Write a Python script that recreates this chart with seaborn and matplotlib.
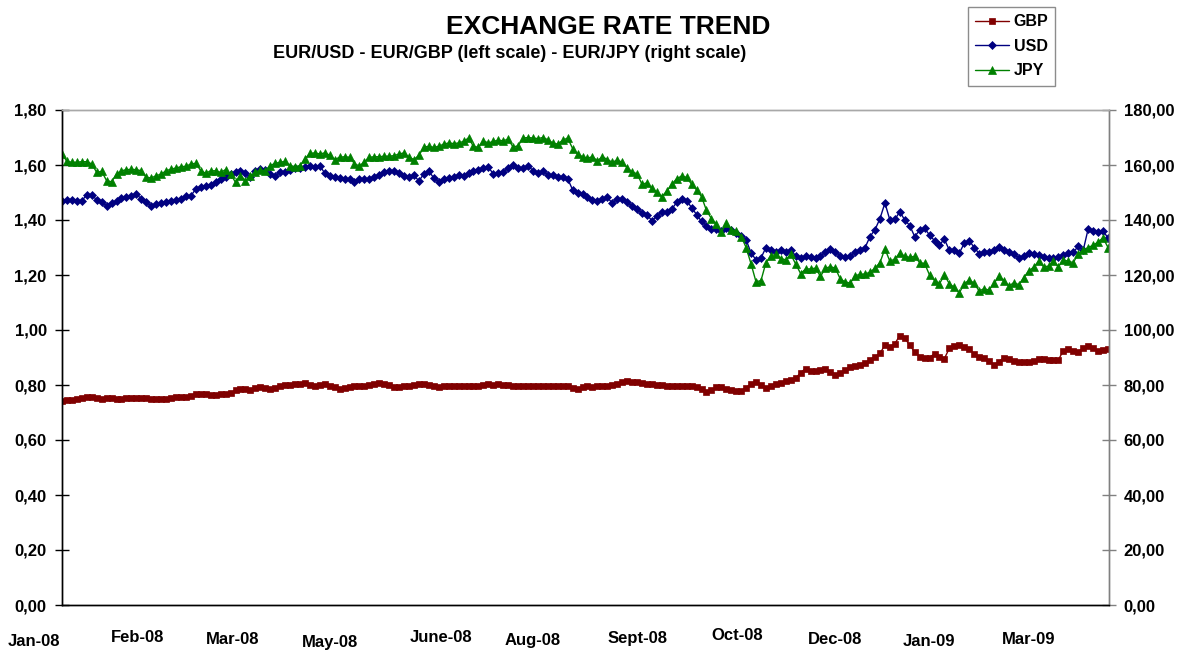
import numpy as np
import pandas as pd
import matplotlib
matplotlib.use("Agg")
import matplotlib.pyplot as plt
import seaborn as sns
from matplotlib.ticker import FuncFormatter
from matplotlib.transforms import ScaledTranslation, blended_transform_factory

# dati (un punto ogni ~5 px, asse a categorie)
usd = [
    1.470, 1.473, 1.474, 1.470, 1.470, 1.492, 1.492, 1.473, 1.464, 1.452,
    1.461, 1.470, 1.479, 1.482, 1.488, 1.495, 1.476, 1.464, 1.452, 1.458,
    1.461, 1.467, 1.470, 1.473, 1.476, 1.488, 1.488, 1.513, 1.521, 1.525,
    1.528, 1.539, 1.549, 1.555, 1.567, 1.573, 1.579, 1.570, 1.555, 1.577,
    1.585, 1.582, 1.567, 1.561, 1.573, 1.573, 1.582, 1.589, 1.588, 1.592,
    1.598, 1.594, 1.598, 1.570, 1.560, 1.557, 1.552, 1.549, 1.548, 1.540,
    1.548, 1.549, 1.550, 1.555, 1.565, 1.575, 1.579, 1.578, 1.570, 1.561,
    1.558, 1.562, 1.542, 1.568, 1.577, 1.553, 1.540, 1.549, 1.553, 1.555,
    1.565, 1.559, 1.572, 1.580, 1.581, 1.588, 1.592, 1.568, 1.570, 1.576,
    1.588, 1.600, 1.590, 1.588, 1.597, 1.580, 1.570, 1.577, 1.565, 1.563,
    1.558, 1.556, 1.550, 1.510, 1.498, 1.494, 1.482, 1.473, 1.470, 1.478,
    1.482, 1.462, 1.476, 1.478, 1.466, 1.450, 1.440, 1.425, 1.418, 1.398,
    1.414, 1.430, 1.430, 1.440, 1.464, 1.476, 1.470, 1.445, 1.420, 1.395,
    1.380, 1.367, 1.367, 1.361, 1.370, 1.365, 1.352, 1.342, 1.328, 1.280,
    1.255, 1.262, 1.300, 1.290, 1.285, 1.290, 1.282, 1.291, 1.270, 1.262,
    1.268, 1.267, 1.262, 1.270, 1.283, 1.295, 1.285, 1.270, 1.265, 1.268,
    1.285, 1.292, 1.300, 1.340, 1.365, 1.405, 1.462, 1.400, 1.402, 1.430,
    1.400, 1.380, 1.340, 1.362, 1.370, 1.345, 1.325, 1.310, 1.330, 1.290,
    1.290, 1.280, 1.315, 1.325, 1.300, 1.278, 1.285, 1.285, 1.290, 1.302,
    1.292, 1.285, 1.276, 1.262, 1.268, 1.280, 1.278, 1.272, 1.265, 1.262,
    1.262, 1.264, 1.272, 1.280, 1.282, 1.305, 1.290, 1.368, 1.360, 1.355,
    1.360, 1.335,
]

jpy = [
    164.0, 161.3, 161.0, 161.0, 161.2, 161.2, 160.4, 157.3, 157.7, 154.3,
    153.9, 156.7, 157.9, 158.3, 158.4, 158.3, 157.9, 155.5, 155.3, 156.1,
    156.7, 157.9, 158.5, 158.9, 159.4, 159.5, 160.4, 160.6, 157.9, 157.0,
    157.9, 157.9, 157.3, 158.3, 156.7, 153.7, 156.1, 154.3, 156.1, 157.3,
    158.2, 157.9, 159.8, 160.6, 161.0, 161.3, 159.8, 159.4, 159.8, 162.2,
    164.2, 164.4, 164.0, 164.4, 163.6, 162.0, 162.8, 163.0, 162.8, 160.5,
    159.6, 161.2, 162.8, 163.0, 163.0, 163.2, 163.2, 163.4, 164.0, 164.4,
    162.8, 162.0, 163.5, 166.5, 166.8, 166.4, 166.8, 167.6, 168.0, 167.8,
    168.0, 168.6, 169.8, 166.8, 166.4, 168.8, 168.0, 168.6, 169.0, 168.8,
    169.4, 166.5, 167.0, 169.8, 170.0, 169.8, 169.6, 170.0, 169.2, 168.0,
    167.6, 169.0, 169.8, 166.0, 164.0, 163.0, 162.5, 163.0, 161.5, 163.0,
    162.0, 161.0, 161.8, 161.0, 159.0, 157.5, 156.8, 153.0, 153.5, 151.5,
    150.2, 148.5, 150.5, 153.0, 155.0, 156.0, 155.5, 153.0, 151.0, 148.5,
    143.5, 140.5, 138.5, 135.5, 139.0, 136.5, 136.0, 134.0, 130.0, 124.0,
    117.5, 118.0, 124.5, 127.0, 127.5, 126.0, 125.5, 127.5, 124.0, 120.5,
    122.2, 122.2, 122.5, 119.5, 122.5, 123.0, 122.5, 118.5, 117.5, 117.0,
    119.8, 120.2, 120.4, 121.0, 122.5, 124.5, 129.5, 125.0, 125.8, 128.0,
    126.8, 126.4, 126.8, 124.5, 124.2, 120.0, 118.0, 116.8, 120.0, 116.8,
    115.5, 113.5, 116.8, 118.2, 117.0, 114.2, 115.0, 114.5, 117.0, 119.5,
    118.0, 116.0, 117.2, 116.5, 119.0, 121.5, 122.8, 125.0, 123.0, 123.2,
    125.0, 123.0, 125.5, 125.0, 124.5, 127.8, 129.0, 130.0, 130.8, 132.0,
    133.5, 130.0,
]

gbp = [
    0.743, 0.745, 0.746, 0.748, 0.752, 0.758, 0.758, 0.752, 0.750, 0.751,
    0.751, 0.750, 0.750, 0.752, 0.753, 0.752, 0.751, 0.751, 0.750, 0.750,
    0.749, 0.748, 0.752, 0.755, 0.757, 0.758, 0.760, 0.766, 0.768, 0.766,
    0.764, 0.764, 0.766, 0.768, 0.770, 0.782, 0.784, 0.785, 0.783, 0.788,
    0.792, 0.790, 0.787, 0.790, 0.795, 0.799, 0.800, 0.802, 0.804, 0.806,
    0.800, 0.798, 0.800, 0.805, 0.796, 0.792, 0.786, 0.790, 0.794, 0.796,
    0.796, 0.798, 0.800, 0.802, 0.806, 0.804, 0.800, 0.792, 0.792, 0.796,
    0.797, 0.800, 0.804, 0.804, 0.800, 0.797, 0.794, 0.796, 0.798, 0.796,
    0.796, 0.797, 0.798, 0.796, 0.798, 0.800, 0.802, 0.800, 0.802, 0.800,
    0.799, 0.797, 0.798, 0.796, 0.796, 0.798, 0.796, 0.797, 0.798, 0.798,
    0.797, 0.797, 0.796, 0.790, 0.786, 0.793, 0.795, 0.794, 0.795, 0.796,
    0.797, 0.800, 0.804, 0.812, 0.814, 0.812, 0.810, 0.806, 0.804, 0.803,
    0.801, 0.800, 0.797, 0.796, 0.797, 0.796, 0.797, 0.796, 0.792, 0.786,
    0.776, 0.782, 0.792, 0.794, 0.786, 0.782, 0.780, 0.780, 0.790, 0.805,
    0.810, 0.800, 0.790, 0.795, 0.805, 0.808, 0.814, 0.818, 0.825, 0.845,
    0.860, 0.852, 0.850, 0.854, 0.858, 0.848, 0.838, 0.845, 0.856, 0.866,
    0.868, 0.873, 0.880, 0.892, 0.903, 0.915, 0.945, 0.940, 0.950, 0.980,
    0.970, 0.945, 0.920, 0.902, 0.897, 0.900, 0.914, 0.902, 0.896, 0.934,
    0.943, 0.944, 0.940, 0.932, 0.912, 0.902, 0.900, 0.888, 0.874, 0.885,
    0.900, 0.893, 0.887, 0.885, 0.882, 0.882, 0.888, 0.893, 0.896, 0.892,
    0.890, 0.892, 0.925, 0.930, 0.925, 0.921, 0.935, 0.943, 0.935, 0.922,
    0.928, 0.932,
]

mesi = ["Jan-08", "Feb-08", "Mar-08", "May-08", "June-08", "Aug-08",
        "Sept-08", "Oct-08", "Dec-08", "Jan-09", "Mar-09"]

# colori stile excel
rosso = "#800000"
blu = "#000080"
verde = "#008000"

sns.set_theme(style="white")
plt.rcParams['font.family'] = ['Liberation Sans', 'DejaVu Sans']
plt.rcParams['font.weight'] = 'bold'
plt.rcParams['text.color'] = 'black'
plt.rcParams['xtick.color'] = 'black'
plt.rcParams['ytick.color'] = 'black'

df = pd.DataFrame({'idx': np.arange(len(usd)), 'GBP': gbp, 'USD': usd, 'JPY': jpy})

W, H = 1179, 654
fig = plt.figure(figsize=(W / 100, H / 100), dpi=100)
ax = fig.add_axes([62 / W, 1 - 605 / H, (1109 - 62) / W, (605 - 110) / H])
ax2 = ax.twinx()

sns.lineplot(data=df, x='idx', y='GBP', ax=ax, color=rosso, linewidth=1,
             marker='s', markersize=4.2, markeredgecolor=rosso, markeredgewidth=0.5, label='GBP')
sns.lineplot(data=df, x='idx', y='USD', ax=ax, color=blu, linewidth=1,
             marker='D', markersize=3.8, markeredgecolor=blu, markeredgewidth=0.5, label='USD')
sns.lineplot(data=df, x='idx', y='JPY', ax=ax2, color=verde, linewidth=1,
             marker='^', markersize=5.2, markeredgecolor=verde, markeredgewidth=0.5, label='JPY')

ax.set_xlim(0, len(usd) - 0.8)
ax.set_ylim(0, 1.8)
ax2.set_ylim(0, 180)
ax.set_yticks(np.arange(0, 1.81, 0.2))
ax2.set_yticks(np.arange(0, 181, 20))
ax.yaxis.set_major_formatter(FuncFormatter(lambda v, p: f"{v:.2f}".replace('.', ',')))
ax2.yaxis.set_major_formatter(FuncFormatter(lambda v, p: f"{v:.2f}".replace('.', ',')))
ax.set_xlabel('')
ax.set_ylabel('')
ax2.set_ylabel('')

tick_pos = list(range(0, 201, 20))
ax.set_xticks(tick_pos)
ax.set_xticklabels([])
ax.tick_params(axis='x', direction='inout', length=10, width=1, color='black')
ax.tick_params(axis='y', direction='inout', length=10, width=1, color='black',
               labelsize=12, pad=6)
ax2.tick_params(axis='y', direction='inout', length=10, width=1, color='#808080',
                labelsize=12, pad=5.5)

for a in (ax, ax2):
    a.spines['top'].set_color('#a8a8a8')
    a.spines['left'].set_color('black')
    a.spines['bottom'].set_color('black')
    a.spines['right'].set_color('#808080')
    for s in a.spines.values():
        s.set_linewidth(1)
    if a.get_legend() is not None:
        a.get_legend().remove()

# etichette asse x sfalsate come nell'originale
spost = [(-28, 37), (-24, 32), (-28, 35), (-29, 38), (-18, 32), (-25, 36),
         (-19, 33), (-19, 30), (-20, 34), (-25, 36), (-25, 34)]
trans = blended_transform_factory(ax.transData, ax.transAxes)
for pos, lab, (dx, dy) in zip(tick_pos, mesi, spost):
    ax.text(pos, 0, lab, transform=trans + ScaledTranslation(dx / 100, -dy / 100, fig.dpi_scale_trans),
            ha='center', va='center', fontsize=12, fontweight='bold')

fig.text(608 / W, 1 - 27 / H, 'EXCHANGE RATE TREND', ha='center', va='center',
         fontsize=19, fontweight='bold')
fig.text(510 / W, 1 - 53 / H, 'EUR/USD - EUR/GBP (left scale) - EUR/JPY (right scale)',
         ha='center', va='center', fontsize=13, fontweight='bold')

handles = [ax.lines[0], ax.lines[1], ax2.lines[0]]
leg = fig.legend(handles, ['GBP', 'USD', 'JPY'], loc='upper left',
                 bbox_to_anchor=(968 / W, 1 - 7 / H), frameon=True, fancybox=False,
                 edgecolor='#707070', fontsize=11.5, handlelength=2.1, handletextpad=0.3,
                 borderpad=0.45, labelspacing=0.6, borderaxespad=0)
leg.get_frame().set_linewidth(1)

fig.savefig('out.png', dpi=100)
